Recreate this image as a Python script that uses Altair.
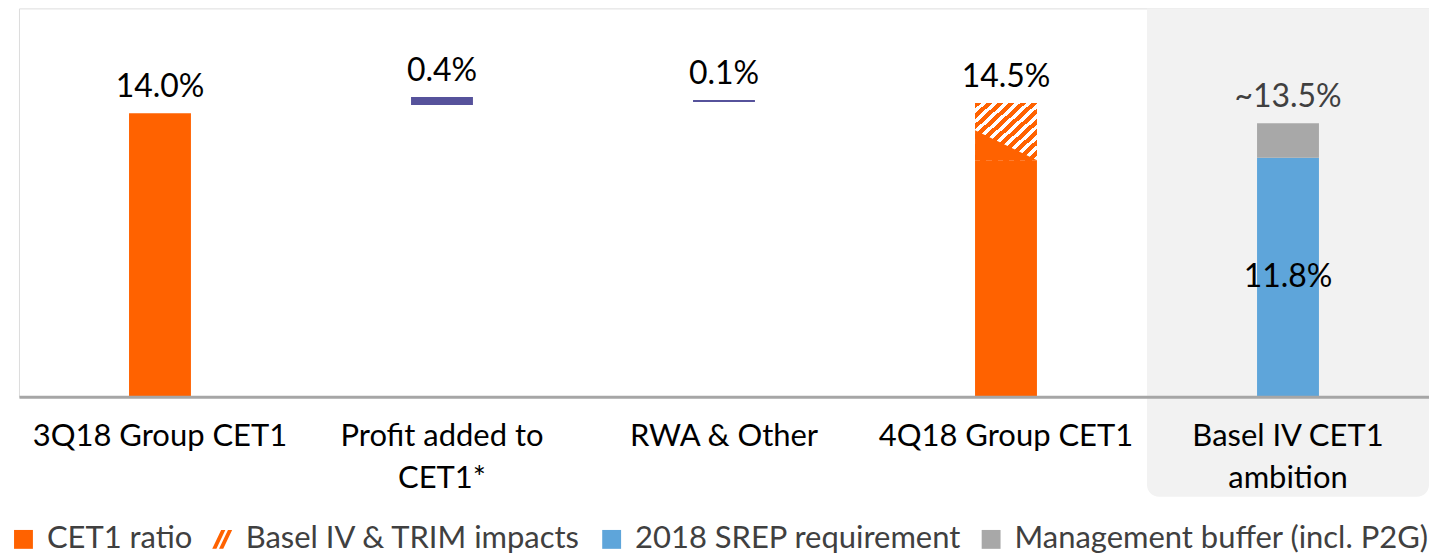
import altair as alt
import pandas as pd

# ---------------- data ----------------
categories = ["3Q18 Group CET1", "Profit added to|CET1*", "RWA & Other",
              "4Q18 Group CET1", "Basel IV CET1|ambition"]

series_names = ["CET1 ratio", "Basel IV & TRIM impacts", "2018 SREP requirement",
                "Management buffer (incl. P2G)", "Movement"]
series_colors = ["#ff6200", "#ff6200", "#5ea5da", "#a8a8a8", "#56529b"]

seg_category = [categories[0], categories[1], categories[2], categories[3],
                categories[4], categories[4]]
seg_series = ["CET1 ratio", "Movement", "Movement", "CET1 ratio",
              "2018 SREP requirement", "Management buffer (incl. P2G)"]
seg_start = [0.0, 14.4, 14.55, 0.0, 0.0, 11.8]
seg_end = [14.0, 14.8, 14.65, 14.5, 11.8, 13.5]

# Basel IV & TRIM impact area on the 4Q18 bar
hatch_category = [categories[3]]
hatch_start = [11.68]
hatch_end = [14.5]
hatch_left_edge = 13.16

label_category = categories
label_text = ["14.0%", "0.4%", "0.1%", "14.5%", "~13.5%"]
label_value = [14.0, 14.8, 14.65, 14.5, 13.5]

inner_category = [categories[4]]
inner_text = ["11.8%"]
inner_value = [11.8]

panel_category = [categories[4]]

# ---------------- layout constants ----------------
W, H = 1412, 389
Y_MAX = 19.17
PX_PER_UNIT = H / Y_MAX
BAR_W = 62
ORANGE = "#ff6200"
FONT = "Lato"
SYM = 441

seg_df = pd.DataFrame({"cat": seg_category, "series": seg_series,
                       "start": seg_start, "end": seg_end})
hatch_df = pd.DataFrame({"cat": hatch_category, "start": hatch_start, "end": hatch_end})
label_df = pd.DataFrame({"cat": label_category, "text": label_text, "value": label_value})
inner_df = pd.DataFrame({"cat": inner_category, "text": inner_text,
                         "value": [v / 2 for v in inner_value]})
legend_df = pd.DataFrame({"series": series_names[:4], "cat": categories[0], "value": 1.0})
panel_df = pd.DataFrame({"cat": panel_category, "top": [Y_MAX], "bottom": [-4.93]})

x_enc = alt.X("cat:N", sort=categories,
              scale=alt.Scale(domain=categories, paddingInner=0, paddingOuter=0),
              axis=alt.Axis(title=None, labelAngle=0, ticks=False, grid=False,
                            labelExpr="split(datum.label, '|')", labelLimit=0,
                            labelFont=FONT, labelFontSize=31, labelColor="#000000",
                            labelLineHeight=42, labelPadding=25,
                            domainColor="#a6a6a6", domainWidth=3, zindex=1))
y_scale = alt.Scale(domain=[0, Y_MAX], nice=False, zero=False)

square = "M-0.9,-0.9H0.9V0.9H-0.9Z"
slash = "M-0.95,0.9L-0.1,-0.9L0.3,-0.9L-0.55,0.9Z M-0.3,0.9L0.55,-0.9L0.95,-0.9L0.1,0.9Z"
shape_range = [square, slash, square, square, square]

legend = alt.Legend(title=None, orient="none", legendX=-11, legendY=516,
                    direction="horizontal", labelFont=FONT, labelFontSize=31,
                    labelColor="#404040", symbolSize=SYM, labelOffset=8,
                    columnPadding=14, values=series_names[:4], labelLimit=0,
                    symbolStrokeWidth=0)
color_enc = alt.Color("series:N",
                      scale=alt.Scale(domain=series_names, range=series_colors),
                      legend=legend)
shape_enc = alt.Shape("series:N",
                      scale=alt.Scale(domain=series_names, range=shape_range),
                      legend=legend)

base_y = alt.Y("start:Q", scale=y_scale, axis=None)

panel = alt.Chart(panel_df).mark_bar(color="#f2f2f2", cornerRadiusBottomLeft=12,
                                     cornerRadiusBottomRight=12, clip=False).encode(
    x=x_enc, y=alt.Y("top:Q", scale=y_scale, axis=None), y2="bottom:Q")

legend_pts = alt.Chart(legend_df).mark_point(filled=True, size=SYM, opacity=1).encode(
    x=x_enc, y=alt.Y("value:Q", scale=y_scale, axis=None),
    color=color_enc, shape=shape_enc)

bars = alt.Chart(seg_df).mark_bar(size=BAR_W).encode(
    x=x_enc, y=base_y, y2="end:Q", color=color_enc)

stops = []
n_stripes = 11
for i in range(n_stripes):
    a, b, c = i / n_stripes, (i + 0.55) / n_stripes, (i + 1) / n_stripes
    stops += [alt.GradientStop(color=ORANGE, offset=a),
              alt.GradientStop(color=ORANGE, offset=b),
              alt.GradientStop(color="#ffffff", offset=b),
              alt.GradientStop(color="#ffffff", offset=c)]
hatch_fill = alt.LinearGradient(gradient="linear", stops=stops, x1=0, y1=0, x2=1, y2=1)

hatch = alt.Chart(hatch_df).mark_bar(size=BAR_W, fill=hatch_fill).encode(
    x=x_enc, y=base_y, y2="end:Q")

tri_h = (hatch_left_edge - hatch_start[0]) * PX_PER_UNIT / (BAR_W / 2)
tri_path = f"M-1,0L-1,{-tri_h:.3f}L1,0Z"
triangle = alt.Chart(hatch_df).mark_point(shape=tri_path, size=BAR_W * BAR_W,
                                          filled=True, fill=ORANGE, opacity=1,
                                          strokeWidth=0).encode(
    x=x_enc, y=base_y)

labels = alt.Chart(label_df).mark_text(font=FONT, fontSize=32, baseline="alphabetic",
                                       dy=-16).encode(
    x=x_enc, y=alt.Y("value:Q", scale=y_scale, axis=None), text="text:N",
    color=alt.condition(alt.datum.cat == categories[4], alt.value("#404040"),
                        alt.value("#000000")))

inner = alt.Chart(inner_df).mark_text(font=FONT, fontSize=32, baseline="middle",
                                      color="#000000").encode(
    x=x_enc, y=alt.Y("value:Q", scale=y_scale, axis=None), text="text:N")

chart = alt.layer(panel, legend_pts, bars, hatch, triangle, labels, inner).properties(
    width=W, height=H,
    autosize=alt.AutoSizeParams(type="none"),
    padding={"left": 11, "top": 0, "right": 0, "bottom": 160},
).configure_view(stroke=None).configure(background="#ffffff")

chart.save("out.html", embed_options={"renderer": "svg", "actions": False})
